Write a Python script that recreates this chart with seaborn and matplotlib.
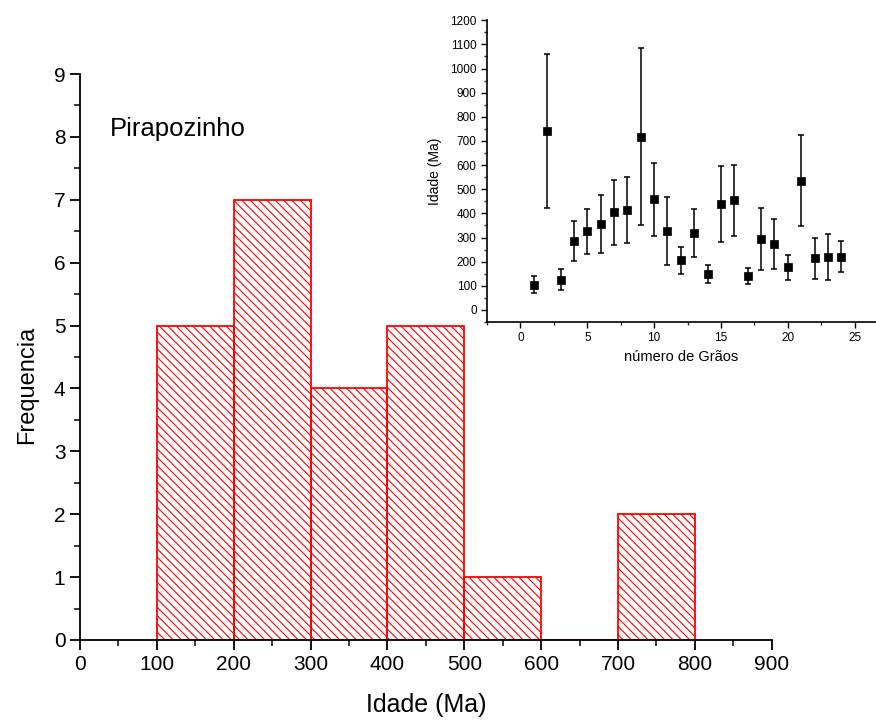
import numpy as np
import pandas as pd
import matplotlib
matplotlib.use("Agg")
import matplotlib.pyplot as plt
import seaborn as sns
from matplotlib.ticker import MultipleLocator

# Histogram data
bin_centers = [150, 250, 350, 450, 550, 650, 750]
counts = [5, 7, 4, 5, 1, 0, 2]
bin_edges = [100, 200, 300, 400, 500, 600, 700, 800]

# Inset data
grain = list(range(1, 25))
age = [105, 742, 126, 287, 325, 357, 405, 415, 718, 458, 326, 205,
       319, 149, 438, 454, 140, 293, 273, 176, 536, 214, 219, 221]
err = [35, 319, 43, 83, 94, 120, 134, 136, 368, 150, 140, 55,
       99, 38, 158, 146, 34, 129, 105, 51, 190, 85, 96, 65]

sns.set_style("ticks")
plt.rcParams['font.family'] = ['Liberation Sans', 'DejaVu Sans']
plt.rcParams['hatch.color'] = 'red'
plt.rcParams['hatch.linewidth'] = 0.8
plt.rcParams['text.color'] = 'black'
plt.rcParams['axes.labelcolor'] = 'black'

fig = plt.figure(figsize=(8.76, 7.22), dpi=100)
ax = fig.add_axes([0.0913, 0.1136, 0.7897, 0.7839])

df = pd.DataFrame({"x": bin_centers, "w": counts})
sns.histplot(data=df, x="x", weights="w", bins=bin_edges, ax=ax,
             color='red', fill=True, stat='count')
hatch = chr(92) * 4
for p in ax.patches:
    p.set_facecolor('none')
    p.set_edgecolor('red')
    p.set_linewidth(1.3)
    p.set_hatch(hatch)

ax.set_xlim(0, 900)
ax.set_ylim(0, 9)
ax.xaxis.set_major_locator(MultipleLocator(100))
ax.xaxis.set_minor_locator(MultipleLocator(50))
ax.yaxis.set_major_locator(MultipleLocator(1))
ax.yaxis.set_minor_locator(MultipleLocator(0.5))
ax.tick_params(which='major', direction='out', length=7, width=1.3, labelsize=15, colors='black')
ax.tick_params(which='minor', direction='out', length=4, width=1.3)
for s in ['top', 'right']:
    ax.spines[s].set_visible(False)
for s in ['left', 'bottom']:
    ax.spines[s].set_linewidth(1.3)
    ax.spines[s].set_color('black')
ax.set_xlabel('Idade (Ma)', fontsize=18, labelpad=14, color='black')
ax.set_ylabel('Frequencia', fontsize=17, color='black')
ax.yaxis.set_label_coords(-0.06, 0.45)
ax.text(0.043, 0.89, 'Pirapozinho', transform=ax.transAxes, fontsize=18.5, color='black')

# Inset
ai = fig.add_axes([0.556, 0.554, 0.444, 0.418])
ai.errorbar(grain, age, yerr=err, fmt='none', ecolor='black', elinewidth=1.1,
            capsize=2.3, capthick=1.1)
sns.scatterplot(x=grain, y=age, marker='s', color='black', s=38, ax=ai,
                edgecolor='black', zorder=3)
ai.set_xlim(-2.5, 26.6)
ai.set_ylim(-50, 1200)
ai.xaxis.set_major_locator(MultipleLocator(5))
ai.xaxis.set_minor_locator(MultipleLocator(2.5))
ai.yaxis.set_major_locator(MultipleLocator(100))
ai.yaxis.set_minor_locator(MultipleLocator(50))
ai.tick_params(which='major', direction='out', length=4, width=1, labelsize=8.5, colors='black')
ai.tick_params(which='minor', direction='out', length=2, width=1)
for s in ['top', 'right']:
    ai.spines[s].set_visible(False)
for s in ['left', 'bottom']:
    ai.spines[s].set_linewidth(1.2)
    ai.spines[s].set_color('black')
ai.set_xlabel('número de Grãos', fontsize=10.5, labelpad=4, color='black')
ai.set_ylabel('Idade (Ma)', fontsize=10, labelpad=6, color='black')
ai.patch.set_alpha(0)

fig.savefig('out.png', dpi=100)
